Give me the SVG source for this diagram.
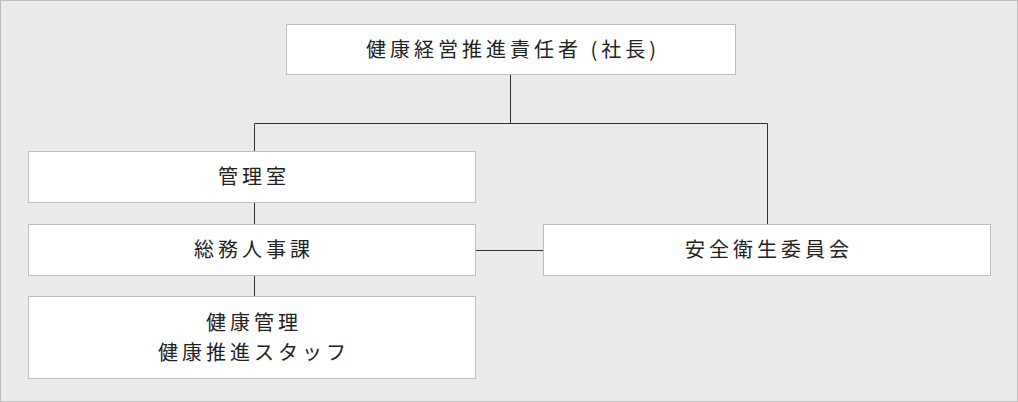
<svg xmlns="http://www.w3.org/2000/svg" width="1018" height="402" viewBox="0 0 1018 402">
<style>
.box{fill:#fff;stroke:#bdbdbd;stroke-width:1}
.t{font-family:"Noto Sans CJK JP","Noto Sans",sans-serif;font-size:20px;fill:#222;text-anchor:middle;letter-spacing:4px}
.c{stroke:#333;stroke-width:1;fill:none}
</style>
<rect x="0.5" y="0.5" width="1017" height="401" fill="#ebebeb" stroke="#bdbdbd"/>
<g id="connectors">
<path class="c" d="M510.5 74V123.5M254.5 151V123.5H767.5V224M254.5 202V224M254.5 275V296M475 250.5H543"/>
</g>
<g id="ceo"><rect class="box" x="286.5" y="24.5" width="449" height="50"/><text class="t" x="513" y="57">健康経営推進責任者 (社長)</text></g>
<g id="kanri"><rect class="box" x="28.5" y="151.5" width="447" height="51"/><text class="t" x="254" y="184">管理室</text></g>
<g id="soumu"><rect class="box" x="28.5" y="224.5" width="447" height="51"/><text class="t" x="254" y="257">総務人事課</text></g>
<g id="staff"><rect class="box" x="28.5" y="296.5" width="447" height="82"/><text class="t" x="254" y="330">健康管理</text><text class="t" x="254" y="360">健康推進スタッフ</text></g>
<g id="anzen"><rect class="box" x="543.5" y="224.5" width="447" height="51"/><text class="t" x="769" y="257">安全衛生委員会</text></g>
</svg>
